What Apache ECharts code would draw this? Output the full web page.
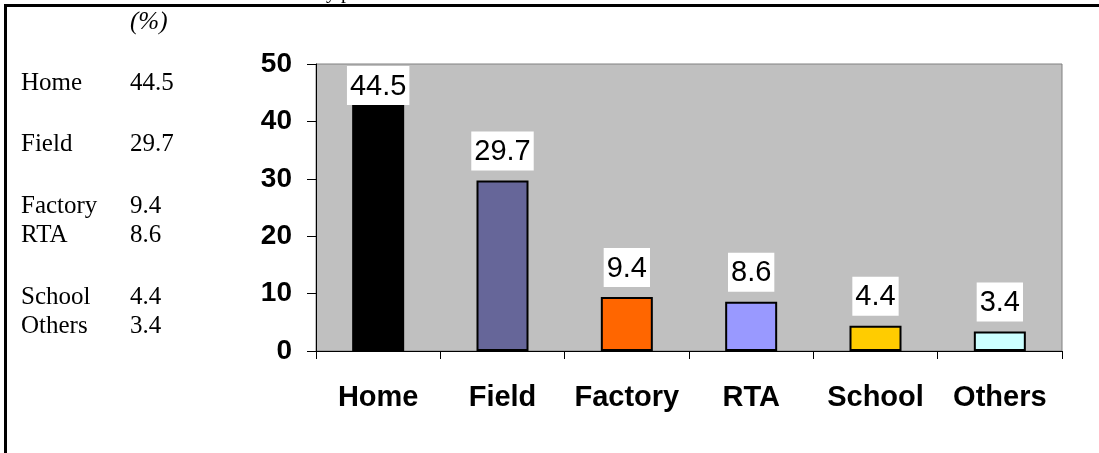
<!DOCTYPE html>
<html>
<head>
<meta charset="utf-8">
<style>
  html, body { margin: 0; padding: 0; background: #ffffff; }
  #chart { width: 1099px; height: 453px; }
</style>
<script src="https://cdn.jsdelivr.net/npm/echarts@6/dist/echarts.min.js"></script>
</head>
<body>
<div id="chart"></div>
<script>
// Place of injury, share of cases (%)
const categories = ['Home', 'Field', 'Factory', 'RTA', 'School', 'Others'];
const percentages = [44.5, 29.7, 9.4, 8.6, 4.4, 3.4];
const barColors = ['#000000', '#666699', '#FF6600', '#9999FF', '#FFCC00', '#CCFFFF'];
const yTicks = [0, 10, 20, 30, 40, 50];
const tableRowY = [84, 145, 207, 236, 298, 327];

const GRID = { left: 316, top: 64, right: 37, bottom: 102 };
const SERIF = '"Liberation Serif", "Times New Roman", serif';
const SANS = '"Liberation Sans", Arial, sans-serif';

const chart = echarts.init(document.getElementById('chart'), null, { renderer: 'canvas' });

// side table: category name and percentage
const tableGraphics = [];
categories.forEach((name, i) => {
  tableGraphics.push({
    type: 'text', left: 21, top: tableRowY[i] - 13,
    style: { text: name, font: '25px ' + SERIF, fill: '#000' }
  });
  tableGraphics.push({
    type: 'text', left: 130, top: tableRowY[i] - 13,
    style: { text: percentages[i].toFixed(1), font: '25px ' + SERIF, fill: '#000' }
  });
});

const option = {
  backgroundColor: '#ffffff',
  animation: false,
  grid: {
    left: GRID.left, top: GRID.top, right: GRID.right, bottom: GRID.bottom,
    show: true, backgroundColor: '#C0C0C0', borderColor: '#808080', borderWidth: 1,
    containLabel: false
  },
  xAxis: {
    type: 'category',
    data: categories,
    axisLine: { lineStyle: { color: '#000', width: 1 } },
    axisTick: { show: true, alignWithLabel: false, interval: 0, length: 8, lineStyle: { color: '#000' } },
    axisLabel: {
      interval: 0, margin: 32, color: '#000',
      fontFamily: SANS, fontWeight: 'bold', fontSize: 29
    },
    splitLine: { show: false }
  },
  yAxis: {
    type: 'value',
    min: yTicks[0], max: yTicks[yTicks.length - 1], interval: 10,
    axisLine: { show: true, lineStyle: { color: '#000', width: 1 } },
    axisTick: { show: true, length: 9, lineStyle: { color: '#000' } },
    axisLabel: {
      margin: 24, color: '#000',
      fontFamily: SANS, fontWeight: 'bold', fontSize: 28
    },
    splitLine: { show: false }
  },
  series: [{
    type: 'bar',
    barWidth: 52,
    data: percentages.map((v, i) => ({
      value: v,
      itemStyle: { color: barColors[i] }
    })),
    itemStyle: { borderColor: '#000', borderWidth: 2 },
    label: {
      show: true, position: 'top', distance: 10,
      formatter: (p) => p.value.toFixed(1),
      color: '#000', backgroundColor: '#ffffff', padding: [6, 3, 4, 3],
      fontFamily: SANS, fontSize: 29
    },
    // keep value labels inside the plot area
    labelLayout: function (params) {
      const r = params.labelRect;
      const minTop = GRID.top + 2;
      if (r.y < minTop) return { dy: minTop - r.y };
      return {};
    }
  }],
  graphic: [
    {
      type: 'text', left: 316, top: -17,
      style: { text: 'by place', font: '20px ' + SERIF, fill: '#000' }
    },
    {
      type: 'text', left: 130, top: 10,
      style: { text: '(%)', font: 'italic 25px ' + SERIF, fill: '#000' }
    },
    ...tableGraphics,
    {
      type: 'rect', z: 100, silent: true,
      shape: { x: 5.5, y: 5.5, width: 1200, height: 600 },
      style: { fill: 'none', stroke: '#000', lineWidth: 3 }
    }
  ]
};

chart.setOption(option);
</script>
</body>
</html>
